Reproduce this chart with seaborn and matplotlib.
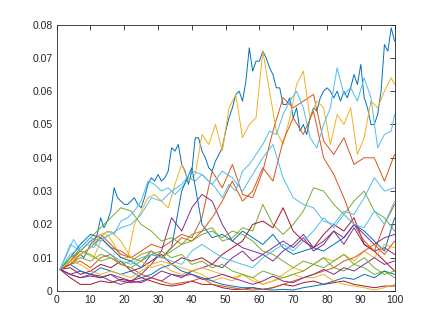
import numpy as np
import pandas as pd
import matplotlib
matplotlib.use("Agg")
import matplotlib.pyplot as plt
import seaborn as sns
from matplotlib.ticker import FuncFormatter

# sample positions
steps = [1, 4, 7, 10, 13, 16, 19, 22, 25, 28, 31, 34, 37, 40, 43, 46, 49,
         52, 55, 58, 61, 64, 67, 70, 73, 76, 79, 82, 85, 88, 91, 94, 97, 100]
steps_odd = list(range(1, 100, 2)) + [100]
steps_all = list(range(1, 101))

# values in thousandths
b1 = [6.5, 7, 8, 9, 8.5, 10, 11, 10, 12, 14,
      15, 17, 22, 19, 21, 24, 31, 28, 27, 26,
      26, 27, 28, 26, 25, 28, 32, 34, 33, 35,
      33, 34, 36, 43, 42, 44, 38, 36, 32, 36,
      46, 46, 42, 40, 37, 36, 39, 41, 43, 48,
      52, 55, 59, 60, 57, 63, 73, 66, 69, 69,
      72, 70, 67, 65, 61, 61, 56, 56, 58, 52,
      55, 48, 50, 47, 52, 55, 54, 58, 60, 61,
      60, 58, 60, 57, 60, 58, 61, 65, 62, 68,
      58, 55, 50, 50, 53, 60, 74, 72, 79, 75]
y1 = [6.5, 8, 10, 12, 11, 10, 15, 17, 14, 10, 10, 20, 24, 28, 29, 27, 25,
      32, 38, 33, 35, 47, 44, 50, 42, 55, 59, 46, 50, 52, 72, 60, 48, 44,
      52, 62, 66, 52, 57, 55, 44, 53, 50, 55, 41, 46, 57, 55, 60, 64, 62]
c1 = [6.5, 11, 15.5, 12, 14, 13, 16, 18, 17, 21, 22, 24, 27, 33, 32, 30,
      31, 29, 31, 34, 33, 35, 33, 31, 28, 32, 30, 36, 38, 41, 44, 48, 47,
      53, 57, 60, 55, 46, 43, 50, 55, 67, 59, 61, 57, 64, 58, 43, 47, 48, 53]
o1 = [6.5, 8, 11, 13, 16, 13, 12, 10, 12, 14, 13, 15, 17, 16, 22, 36, 31,
      38, 29, 28, 36, 48, 58, 55, 57, 59, 45, 41, 46, 38, 40, 40, 33, 41]
p1 = [6.5, 5, 6, 5, 4, 5, 4, 3, 5, 8, 12, 22, 18, 25, 29, 27, 20,
      15, 13, 12, 11, 9, 12, 14, 17, 13, 15, 18, 14, 19, 14, 12, 13, 11]
g1 = [6.5, 9, 13, 16, 19, 22, 25, 24, 20, 18, 15, 16, 14, 17, 18, 19, 15,
      16, 19, 18, 26, 20, 17, 20, 24, 31, 30, 26, 23, 27, 30, 24, 22, 18]
r1 = [6.5, 7, 5, 6, 8, 7, 9, 6, 7, 9, 11, 8, 10, 9, 10, 8, 11,
      13, 15, 20, 21, 19, 25, 18, 15, 13, 17, 20, 18, 22, 14, 12, 9, 6]
b2 = [6.5, 10, 14, 17, 16, 13, 10, 9, 7, 11, 10, 13, 30, 37, 20, 16, 17,
      15, 18, 16, 14, 17, 13, 11, 12, 13, 12, 14, 16, 20, 18, 15, 12, 22]
o2 = [6.5, 9, 12, 15, 17, 14, 11, 10, 9, 12, 10, 13, 16, 15, 18, 22, 27,
      33, 27, 30, 37, 33, 45, 52, 47, 54, 40, 35, 28, 20, 15, 12, 20, 26]
y2 = [6.5, 9, 11, 13, 17, 18, 15, 10, 9, 7, 8, 6, 5, 6, 5, 3, 4,
      3, 5, 4, 2, 3, 5, 7, 6, 8, 10, 9, 11, 9, 12, 10, 14, 13]
p2 = [6.5, 5, 4, 4.5, 4, 5, 3, 2.5, 3, 4, 3, 5, 4, 6, 7, 8, 7,
      10, 12, 9, 11, 13, 15, 13, 16, 12, 14, 18, 16, 20, 17, 14, 16, 17]
g2 = [6.5, 8, 10, 9, 11, 10, 8, 9, 11, 12, 10, 12, 14, 15, 17, 18, 16,
      18, 17, 15, 12, 11, 9, 7, 9, 8, 10, 7, 6, 8, 7, 5, 6, 4]
c2 = [6.5, 11, 13, 16, 15, 17, 19, 20, 23, 28, 27, 30, 32, 36, 35, 32, 36,
      34, 30, 35, 40, 44, 34, 28, 26, 25, 21, 20, 24, 23, 28, 34, 30, 31]
r2 = [6.5, 4, 2, 2, 3, 2.5, 3.5, 3, 4, 3, 2, 1.5, 2, 3, 2, 2, 1,
      0.5, 0.5, 1, 0.5, 1, 2, 1.5, 2.5, 3, 2, 2.5, 3, 2, 1.5, 1, 1.5, 1.5]
b3 = [6.5, 8, 6, 5, 7, 6, 5, 6, 4, 5, 7, 8, 6, 5, 4, 3, 2,
      1.5, 1, 1, 0.5, 0.3, 0.5, 0.3, 1, 1.5, 2, 3, 4, 3.5, 5, 4, 6, 5]
o3 = [6.5, 8, 9, 7, 10, 11, 8, 7, 5, 4, 3, 2, 2.5, 3, 4, 2, 1.5,
      1, 0.5, 0.3, 0.5, 1, 2, 3, 4, 5, 6, 7, 9, 10, 12, 14, 11, 15]
y3 = [6.5, 9, 8, 6, 5, 6, 5, 4, 6, 8, 9, 8, 7, 6, 7, 6, 5,
      4, 5, 3, 2, 3, 4, 5, 4, 4, 5, 3, 2, 1.5, 1, 0.3, 1, 2]
p3 = [6.5, 5, 4, 5, 4.5, 3, 2, 3, 2.5, 4, 6, 5, 4.5, 5, 3.5, 4, 5,
      4, 3, 2, 3, 4.5, 3, 2.5, 4, 5, 6.5, 5, 7, 6, 8, 10, 8, 9]
g3 = [6.5, 10, 12, 11, 9, 10, 8, 7, 9, 11, 12, 10, 11, 8, 9, 7, 8,
      6, 5, 4, 6, 5, 4, 5, 6, 8, 7, 9, 11, 8, 10, 7, 5, 6]
c3 = [6.5, 14, 12, 15, 13, 11, 9, 8, 10, 11, 10, 9, 8, 12, 14, 12, 10,
      9, 8, 7, 10, 12, 14, 12, 15, 18, 22, 19, 23, 20, 19, 24, 20, 27]

series = [(b1, steps_all), (o1, steps), (y1, steps_odd), (p1, steps),
          (g1, steps), (c1, steps_odd), (r1, steps), (b2, steps),
          (o2, steps), (y2, steps), (p2, steps), (g2, steps), (c2, steps),
          (r2, steps), (b3, steps), (o3, steps), (y3, steps), (p3, steps),
          (g3, steps), (c3, steps)]

matlab_colors = ["#0072BD", "#D95319", "#EDB120", "#7E2F8E",
                 "#77AC30", "#4DBEEE", "#A2142F"]
palette = [matlab_colors[i % 7] for i in range(len(series))]

rows = []
for k, (vals, xs) in enumerate(series):
    for s, v in zip(xs, vals):
        rows.append((k, s, v / 1000.0))
df = pd.DataFrame(rows, columns=["run", "step", "value"])

sns.set_style("white")
plt.rcParams["font.family"] = ["Liberation Sans", "DejaVu Sans"]

fig = plt.figure(figsize=(4.36, 3.27), dpi=100)
ax = fig.add_axes([0.13, 0.11, 0.775, 0.815])

sns.lineplot(data=df, x="step", y="value", hue="run", palette=palette,
             legend=False, linewidth=0.7, ax=ax)

ax.set_xlim(0, 100)
ax.set_ylim(0, 0.08)
ax.set_xticks(range(0, 101, 10))
ax.set_yticks(np.arange(0, 0.081, 0.01))
ax.yaxis.set_major_formatter(FuncFormatter(lambda v, p: f"{v:.2f}".rstrip("0").rstrip(".") if v else "0"))
ax.set_xlabel("")
ax.set_ylabel("")

edge = "#262626"
for sp in ax.spines.values():
    sp.set_visible(True)
    sp.set_color(edge)
    sp.set_linewidth(0.6)
ax.tick_params(direction="in", length=3.4, width=0.6, colors=edge,
               labelsize=7.5, top=True, right=True, pad=3)

fig.savefig("out.png", dpi=100, facecolor="white")
